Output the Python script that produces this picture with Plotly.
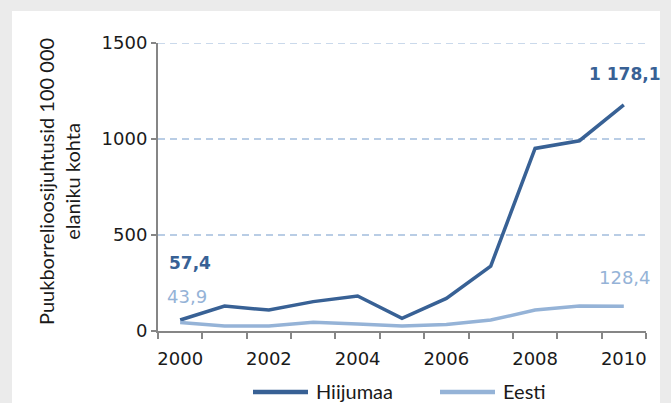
import plotly.graph_objects as go

years = [str(y) for y in range(2000, 2011)]
hiiumaa = [57.4, 130, 109, 153, 182, 66, 170, 338, 951, 991, 1178.1]
eesti = [43.9, 26, 26, 45, 36, 26, 34, 57, 109, 130, 128.4]
y_ticks = [0, 500, 1000, 1500]
tick_text = [y if int(y) % 2 == 0 else "" for y in years]
series_names = ["Hiijumaa", "Eesti"]

dark = "#386195"
light = "#95b3d7"
grid = "#b9cde5"
axis_c = "#868686"
txt = "#1a1a1a"
numfont = "DejaVu Sans"
txtfont = "Lato"

# plot-area geometry in pixels
L, R, T, B = 158, 25, 43, 72
W, H = 671 - L - R, 403 - T - B


def px(xp):
    return (xp - L) / W


def py(yp):
    return (403 - B - yp) / H


fig = go.Figure()
fig.add_trace(go.Scatter(x=years, y=hiiumaa, mode="lines", name=series_names[0],
                         line=dict(color=dark, width=3.5), showlegend=False))
fig.add_trace(go.Scatter(x=years, y=eesti, mode="lines", name=series_names[1],
                         line=dict(color=light, width=3.5), showlegend=False))

# data labels (x given as category index)
fig.add_annotation(x=0, y=hiiumaa[0], text="<b>57,4</b>", showarrow=False,
                   yshift=57, xshift=10, font=dict(color=dark, size=17, family=numfont))
fig.add_annotation(x=0, y=eesti[0], text="43,9", showarrow=False,
                   yshift=26, xshift=7, font=dict(color=light, size=18, family=numfont))
fig.add_annotation(x=10, y=hiiumaa[-1], text="<b>1 178,1</b>", showarrow=False,
                   yshift=31, xshift=1, font=dict(color=dark, size=17, family=numfont))
fig.add_annotation(x=10, y=eesti[-1], text="128,4", showarrow=False,
                   yshift=29, xshift=1, font=dict(color=light, size=18, family=numfont))

# y-axis title
fig.add_annotation(xref="paper", yref="paper", x=px(59), y=py(182),
                   xanchor="center", yanchor="middle",
                   text="Puukborrelioosijuhtusid 100 000<br>elaniku kohta",
                   textangle=-90, showarrow=False,
                   font=dict(color=txt, size=20, family=txtfont))

# white inner panel
fig.add_shape(type="rect", xref="paper", yref="paper",
              x0=px(12), x1=px(660), y0=py(420), y1=py(11),
              fillcolor="white", line=dict(width=0), layer="below")

# top gridline (plotly drops the gridline at the range edge)
fig.add_shape(type="line", xref="paper", yref="y", x0=0, x1=1,
              y0=y_ticks[-1], y1=y_ticks[-1],
              line=dict(color=grid, width=1.5, dash="7px,5px"), layer="below")

# manual legend
for i, (name, col) in enumerate(zip(series_names, [dark, light])):
    x0 = [253, 440][i]
    fig.add_shape(type="line", xref="paper", yref="paper",
                  x0=px(x0), x1=px(x0 + 55), y0=py(392), y1=py(392),
                  line=dict(color=col, width=4.5))
    fig.add_annotation(xref="paper", yref="paper", x=px(x0 + 61), y=py(391),
                       xanchor="left", yanchor="middle", text=name, showarrow=False,
                       font=dict(color=txt, size=20, family=txtfont))

fig.update_layout(
    width=671, height=403,
    paper_bgcolor="#ebebeb", plot_bgcolor="rgba(0,0,0,0)",
    margin=dict(l=L, r=R, t=T, b=B, autoexpand=False),
    font=dict(family=numfont, color=txt),
    showlegend=False,
    xaxis=dict(type="category", range=[-0.5, 10.5], tickmode="array",
               tickvals=years, ticktext=tick_text, tickson="boundaries",
               ticks="outside", ticklen=6, tickcolor=axis_c, tickwidth=2,
               tickangle=0, automargin=False, ticklabelstandoff=10,
               showline=True, linecolor=axis_c, linewidth=2,
               showgrid=False, tickfont=dict(size=18, family=numfont, color=txt)),
    yaxis=dict(range=[0, 1500], tickvals=y_ticks,
               ticks="outside", ticklen=5, tickcolor=axis_c, tickwidth=2,
               automargin=False, ticklabelstandoff=0,
               showline=True, linecolor=axis_c, linewidth=2,
               showgrid=True, gridcolor=grid, griddash="7px,5px", gridwidth=1.5,
               zeroline=False, tickfont=dict(size=18, family=numfont, color=txt)),
)

fig.write_html("out.html", config={"displayModeBar": False},
               post_script="document.body.style.margin='0';")
